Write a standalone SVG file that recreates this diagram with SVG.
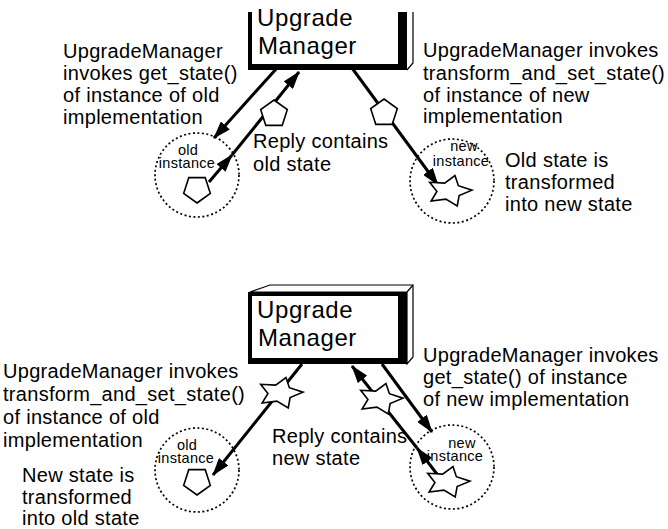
<svg xmlns="http://www.w3.org/2000/svg" xmlns:xlink="http://www.w3.org/1999/xlink" width="668" height="529" viewBox="0 0 668 529">
<style>
.t{font-family:"Liberation Sans",Arial,Helvetica,sans-serif;font-size:20px;letter-spacing:0.3px;fill:#000}
.s{font-size:14.5px;letter-spacing:0.3px}
.b{font-size:24px;letter-spacing:0.6px}
.ln{stroke:#000;stroke-width:3;fill:none}
.inst{fill:none;stroke:#000;stroke-width:1.7;stroke-dasharray:2 2.5}
.shape{fill:#fff;stroke:#000;stroke-width:1.6;stroke-linejoin:miter}
.thin{fill:#fff;stroke:#000;stroke-width:1.2}
</style>
<defs>
<marker id="ah" markerUnits="userSpaceOnUse" viewBox="0 0 18 12" refX="17" refY="6" markerWidth="18" markerHeight="12" orient="auto">
<path d="M0,0 L18,6 L0,12 z" fill="#000"/>
</marker>
<polygon id="pentUp" points="0,-14 13.31,-4.33 8.23,11.33 -8.23,11.33 -13.31,-4.33"/>
<polygon id="pentDown" points="0,14 13.31,4.33 8.23,-11.33 -8.23,-11.33 -13.31,4.33"/>
<polygon id="star" points="5.96,-15.46 9.38,-5.29 22.97,-0.84 10.13,4.58 8.25,14.94 -3.13,8.11 -17.87,10.07 -12.06,0.44 -19.29,-8.71 -4.32,-7.84"/>
</defs>

<rect width="668" height="529" fill="#fff"/>

<!-- top manager -->
<g id="manager-top">
<rect x="250" y="12" width="155" height="55" fill="#fff"/>
<polyline class="thin" points="407,70 413,63 413,12" fill="none"/>
<rect x="248" y="12" width="4" height="58" fill="#000"/>
<rect x="398" y="12" width="9" height="58" fill="#000"/>
<rect x="248" y="64" width="159" height="6" fill="#000"/>
<text class="t b" x="257" y="26">Upgrade</text>
<text class="t b" x="258" y="54">Manager</text>
</g>

<!-- bottom manager -->
<g id="manager-bottom">
<polygon class="thin" points="250,292 270,285 413,285 413,357 407,364 407,292"/>
<line x1="407" y1="292" x2="413" y2="285" stroke="#000" stroke-width="1.2"/>
<rect x="250" y="294" width="155" height="68" fill="#fff"/>
<rect x="248" y="292" width="159" height="4" fill="#000"/>
<rect x="248" y="292" width="4" height="72" fill="#000"/>
<rect x="398" y="292" width="9" height="72" fill="#000"/>
<rect x="248" y="358" width="159" height="6" fill="#000"/>
<text class="t b" x="257" y="318">Upgrade</text>
<text class="t b" x="258" y="346">Manager</text>
</g>

<!-- connectors -->
<g id="connectors">
<line class="ln" x1="277" y1="68" x2="214" y2="138" marker-end="url(#ah)"/>
<line class="ln" x1="209" y1="182" x2="232" y2="155" marker-end="url(#ah)"/>
<line class="ln" x1="232" y1="155" x2="299" y2="72" marker-end="url(#ah)"/>
<line class="ln" x1="352" y1="68" x2="438" y2="185" marker-end="url(#ah)"/>
<line class="ln" x1="302" y1="364" x2="213" y2="475" marker-end="url(#ah)"/>
<line class="ln" x1="382" y1="364" x2="432" y2="432" marker-end="url(#ah)"/>
<line class="ln" x1="440" y1="478" x2="417" y2="448" marker-end="url(#ah)"/>
<line class="ln" x1="417" y1="448" x2="352" y2="366" marker-end="url(#ah)"/>
</g>

<!-- messages -->
<g id="msg-get-state"><use xlink:href="#pentUp" href="#pentUp" class="shape" x="274" y="114"/></g>
<g id="msg-transform-new"><use xlink:href="#pentUp" href="#pentUp" class="shape" x="384" y="113"/></g>
<g id="msg-transform-old"><use xlink:href="#star" href="#star" class="shape" x="280" y="393"/></g>
<g id="msg-reply-new"><use xlink:href="#star" href="#star" class="shape" x="380" y="399"/></g>

<!-- instances -->
<g id="old-instance-top">
<circle class="inst" cx="197" cy="175" r="42"/>
<text class="t s" x="188" y="155" text-anchor="middle">old</text>
<text class="t s" x="187" y="168" text-anchor="middle">instance</text>
<use xlink:href="#pentDown" href="#pentDown" class="shape" x="197" y="189"/>
</g>
<g id="new-instance-top">
<circle class="inst" cx="452" cy="181" r="42"/>
<text class="t s" x="464" y="151" text-anchor="middle">new</text>
<text class="t s" x="461" y="166" text-anchor="middle">instance</text>
<use xlink:href="#star" href="#star" class="shape" x="449" y="191"/>
</g>
<g id="old-instance-bottom">
<circle class="inst" cx="197" cy="470" r="42"/>
<text class="t s" x="187" y="450" text-anchor="middle">old</text>
<text class="t s" x="186" y="463" text-anchor="middle">instance</text>
<use xlink:href="#pentDown" href="#pentDown" class="shape" x="197" y="481"/>
</g>
<g id="new-instance-bottom">
<circle class="inst" cx="452" cy="467" r="42"/>
<text class="t s" x="462" y="448" text-anchor="middle">new</text>
<text class="t s" x="455" y="461" text-anchor="middle">instance</text>
<use xlink:href="#star" href="#star" class="shape" x="447" y="482"/>
</g>

<!-- labels -->
<g id="labels">
<text class="t" x="63" y="58">UpgradeManager</text>
<text class="t" x="63" y="80">invokes get_state()</text>
<text class="t" x="63" y="102">of instance of old</text>
<text class="t" x="63" y="124">implementation</text>

<text class="t" x="423" y="57">UpgradeManager invokes</text>
<text class="t" x="423" y="80">transform_and_set_state()</text>
<text class="t" x="423" y="102">of instance of new</text>
<text class="t" x="423" y="123">implementation</text>

<text class="t" x="253" y="148">Reply contains</text>
<text class="t" x="253" y="171">old state</text>

<text class="t" x="505" y="167">Old state is</text>
<text class="t" x="505" y="189">transformed</text>
<text class="t" x="505" y="211">into new state</text>

<text class="t" x="3" y="378">UpgradeManager invokes</text>
<text class="t" x="3" y="401">transform_and_set_state()</text>
<text class="t" x="3" y="424">of instance of old</text>
<text class="t" x="3" y="447">implementation</text>

<text class="t" x="22" y="482">New state is</text>
<text class="t" x="22" y="504">transformed</text>
<text class="t" x="22" y="525">into old state</text>

<text class="t" x="423" y="362">UpgradeManager invokes</text>
<text class="t" x="423" y="384">get_state() of instance</text>
<text class="t" x="423" y="406">of new implementation</text>

<text class="t" x="272" y="443">Reply contains</text>
<text class="t" x="272" y="465">new state</text>
</g>
</svg>
